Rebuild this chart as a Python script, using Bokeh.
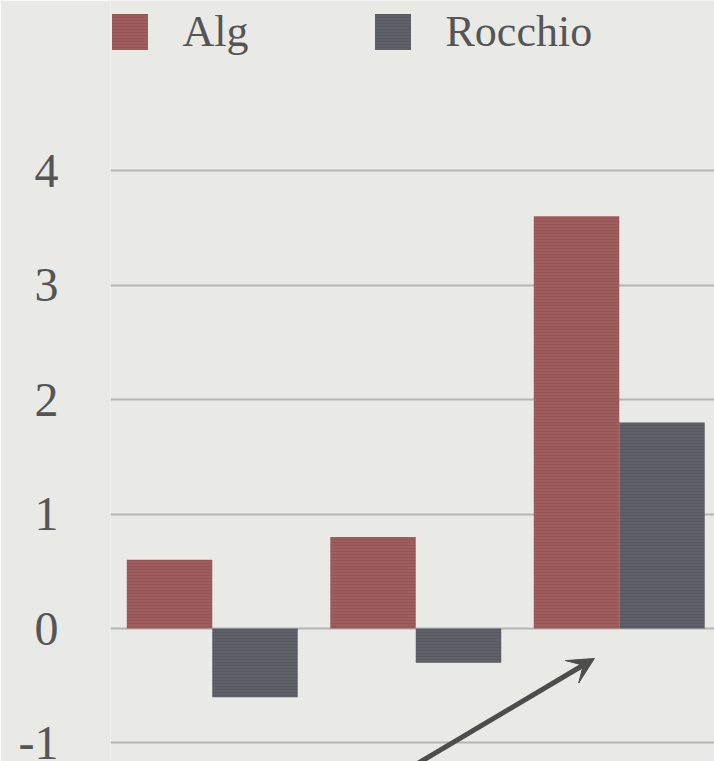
from bokeh.plotting import figure
from bokeh.models import (ColumnDataSource, FixedTicker, Legend, LegendItem,
                          Range1d, Arrow, VeeHead)
from bokeh.transform import dodge
from bokeh.embed import file_html
from bokeh.resources import INLINE

# Three query groups, scores for each method
groups = [0.5, 1.5, 2.5]
alg = [0.6, 0.8, 3.6]
rocchio = [-0.6, -0.3, 1.8]
y_ticks = [-1, 0, 1, 2, 3, 4]
y_tick_labels = ["-1", "0", "1", "2", "3", "4"]

BG = "#e9e9e5"
RED = "#a15c5e"
GREY = "#5f6068"
TEXT = "#555555"
FONT = "Liberation Serif"

src = ColumnDataSource(dict(x=groups, alg=alg, rocchio=rocchio))

p = figure(width=714, height=761, output_backend="svg", toolbar_location=None,
           x_range=Range1d(0, 2.968), y_range=Range1d(-1.1616, 5.485),
           min_border_left=110, min_border_right=0, min_border_top=0,
           min_border_bottom=0, x_axis_location=None)
p.background_fill_color = BG
p.border_fill_color = BG
p.outline_line_color = None

bw = 0.42
bar_style = dict(width=bw, bottom=0, source=src, line_color=None,
                 hatch_pattern="horizontal_line", hatch_scale=3,
                 hatch_weight=1, hatch_alpha=0.08, hatch_color="#000000")
r_alg = p.vbar(x=dodge("x", -bw / 2, range=p.x_range), top="alg",
               fill_color=RED, **bar_style)
r_roc = p.vbar(x=dodge("x", bw / 2, range=p.x_range), top="rocchio",
               fill_color=GREY, **bar_style)
# the grid sits behind the bars
r_alg.level = "overlay"
r_roc.level = "overlay"
p.ygrid.level = "image"

p.xgrid.grid_line_color = None
p.ygrid.grid_line_color = "#b5b5b5"
p.ygrid.grid_line_width = 2
p.ygrid.ticker = FixedTicker(ticks=y_ticks)

ax = p.yaxis[0]
ax.ticker = FixedTicker(ticks=y_ticks)
ax.major_label_overrides = {t: s for t, s in zip(y_ticks, y_tick_labels)}
ax.axis_line_color = None
ax.major_tick_line_color = None
ax.minor_tick_line_color = None
ax.major_tick_out = 0
ax.major_label_standoff = 52
ax.major_label_text_font = FONT
ax.major_label_text_font_size = "48px"
ax.major_label_text_color = TEXT

# arrow pointing at the third group
p.add_layout(Arrow(end=VeeHead(size=26, fill_color="#4d4d4d", line_color="#4d4d4d"),
                   x_start=1.30, y_start=-1.40, x_end=2.378, y_end=-0.262,
                   line_color="#4d4d4d", line_width=5))

legend = Legend(items=[LegendItem(label="Alg", renderers=[r_alg]),
                       LegendItem(label="Rocchio", renderers=[r_roc])],
                orientation="horizontal", location=(-3.5, 704),
                glyph_width=45, glyph_height=45, label_standoff=31,
                spacing=121, padding=0, margin=0,
                background_fill_alpha=0, border_line_color=None,
                label_text_font=FONT, label_text_font_size="44px",
                label_text_color=TEXT)
p.add_layout(legend)

open("out.html", "w").write(file_html(p, INLINE))
